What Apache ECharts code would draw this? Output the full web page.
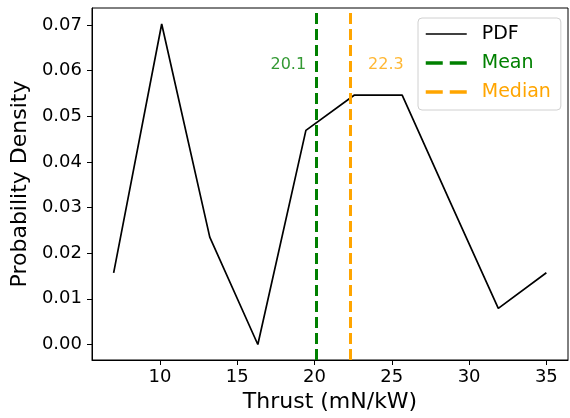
<!DOCTYPE html>
<html>
<head>
<meta charset="utf-8">
<script src="https://cdn.jsdelivr.net/npm/echarts@6/dist/echarts.min.js"></script>
<style>
  html, body { margin: 0; padding: 0; background: #fff; }
  #chart { width: 570px; height: 418px; }
</style>
</head>
<body>
<div id="chart"></div>
<script>
// Thrust samples: probability density by thrust bin
const thrust = [7.00, 10.11, 13.22, 16.33, 19.44, 22.56, 25.67, 28.78, 31.89, 35.00];
const density = [0.0157, 0.0702, 0.0235, 0.0000, 0.0469, 0.0546, 0.0546, 0.0312, 0.0079, 0.0157];
const meanThrust = 20.1;
const medianThrust = 22.3;
const xTicks = [10, 15, 20, 25, 30, 35];
const yTicks = [0.00, 0.01, 0.02, 0.03, 0.04, 0.05, 0.06, 0.07];

const FONT = 'DejaVu Sans';
const GREEN = '#008000';
const ORANGE = '#FFA500';
const labelY = 0.0613;

const chart = echarts.init(document.getElementById('chart'), null, { renderer: 'canvas' });

chart.setOption({
  animation: false,
  backgroundColor: '#fff',
  textStyle: { fontFamily: FONT },
  grid: {
    left: 92, right: 2, top: 8, bottom: 55,
    show: true, borderColor: '#000', borderWidth: 1, backgroundColor: 'transparent'
  },
  xAxis: {
    type: 'value', min: 5.6, max: 36.4,
    name: 'Thrust (mN/kW)', nameLocation: 'middle', nameGap: 31,
    nameTextStyle: { fontFamily: FONT, fontSize: 22, color: '#000' },
    axisLine: { show: true, onZero: false, lineStyle: { color: '#000', width: 1 } },
    axisTick: { show: true, inside: false, length: 5, customValues: xTicks, lineStyle: { color: '#000' } },
    axisLabel: { customValues: xTicks, fontFamily: FONT, fontSize: 18, color: '#000', margin: 8 },
    splitLine: { show: false }
  },
  yAxis: {
    type: 'value', min: -0.0034, max: 0.0737,
    name: 'Probability Density', nameLocation: 'middle', nameGap: 58,
    nameTextStyle: { fontFamily: FONT, fontSize: 22, color: '#000' },
    axisLine: { show: true, onZero: false, lineStyle: { color: '#000', width: 1 } },
    axisTick: { show: true, inside: false, length: 5, customValues: yTicks, lineStyle: { color: '#000' } },
    axisLabel: {
      customValues: yTicks, fontFamily: FONT, fontSize: 18, color: '#000', margin: 10,
      formatter: v => v.toFixed(2)
    },
    splitLine: { show: false }
  },
  legend: {
    orient: 'vertical',
    left: 418, top: 18,
    padding: [6, 10, 8, 6],
    itemWidth: 41, itemHeight: 14, itemGap: 9,
    backgroundColor: 'rgba(255,255,255,0.8)',
    borderColor: '#d0d0d0', borderWidth: 1, borderRadius: 4,
    itemStyle: { opacity: 0 },
    textStyle: { fontFamily: FONT, fontSize: 19, lineHeight: 20, padding: [0, 0, 0, 10] },
    data: [
      { name: 'PDF', textStyle: { color: '#000' }, lineStyle: { width: 1.7 } },
      { name: 'Mean', textStyle: { color: GREEN }, lineStyle: { width: 3.5, type: [17, 7] } },
      { name: 'Median', textStyle: { color: ORANGE }, lineStyle: { width: 3.5, type: [17, 7] } }
    ]
  },
  series: [
    {
      name: 'PDF', type: 'line',
      data: thrust.map((x, i) => [x, density[i]]),
      symbol: 'none', showSymbol: false,
      lineStyle: { color: '#000', width: 1.7 },
      itemStyle: { color: '#000' },
      z: 3
    },
    {
      name: 'Mean', type: 'line', data: [],
      symbol: 'none',
      lineStyle: { color: GREEN, width: 3, type: [11, 5] },
      itemStyle: { color: GREEN },
      markLine: {
        silent: true, symbol: 'none', label: { show: false },
        lineStyle: { color: GREEN, width: 3, type: [11, 5] },
        data: [{ xAxis: meanThrust }]
      },
      z: 4
    },
    {
      name: 'Median', type: 'line', data: [],
      symbol: 'none',
      lineStyle: { color: ORANGE, width: 3, type: [11, 5] },
      itemStyle: { color: ORANGE },
      markLine: {
        silent: true, symbol: 'none', label: { show: false },
        lineStyle: { color: ORANGE, width: 3, type: [11, 5] },
        data: [{ xAxis: medianThrust }]
      },
      z: 4
    },
    {
      name: 'annotations', type: 'scatter', silent: true,
      symbolSize: 0,
      data: [
        { value: [meanThrust, labelY], label: { position: 'left', distance: 10, color: GREEN } },
        { value: [medianThrust, labelY], label: { position: 'right', distance: 18, color: ORANGE } }
      ],
      label: {
        show: true, fontFamily: FONT, fontSize: 16,
        formatter: p => p.value[0].toFixed(1)
      },
      z: 5
    }
  ]
});
</script>
</body>
</html>
